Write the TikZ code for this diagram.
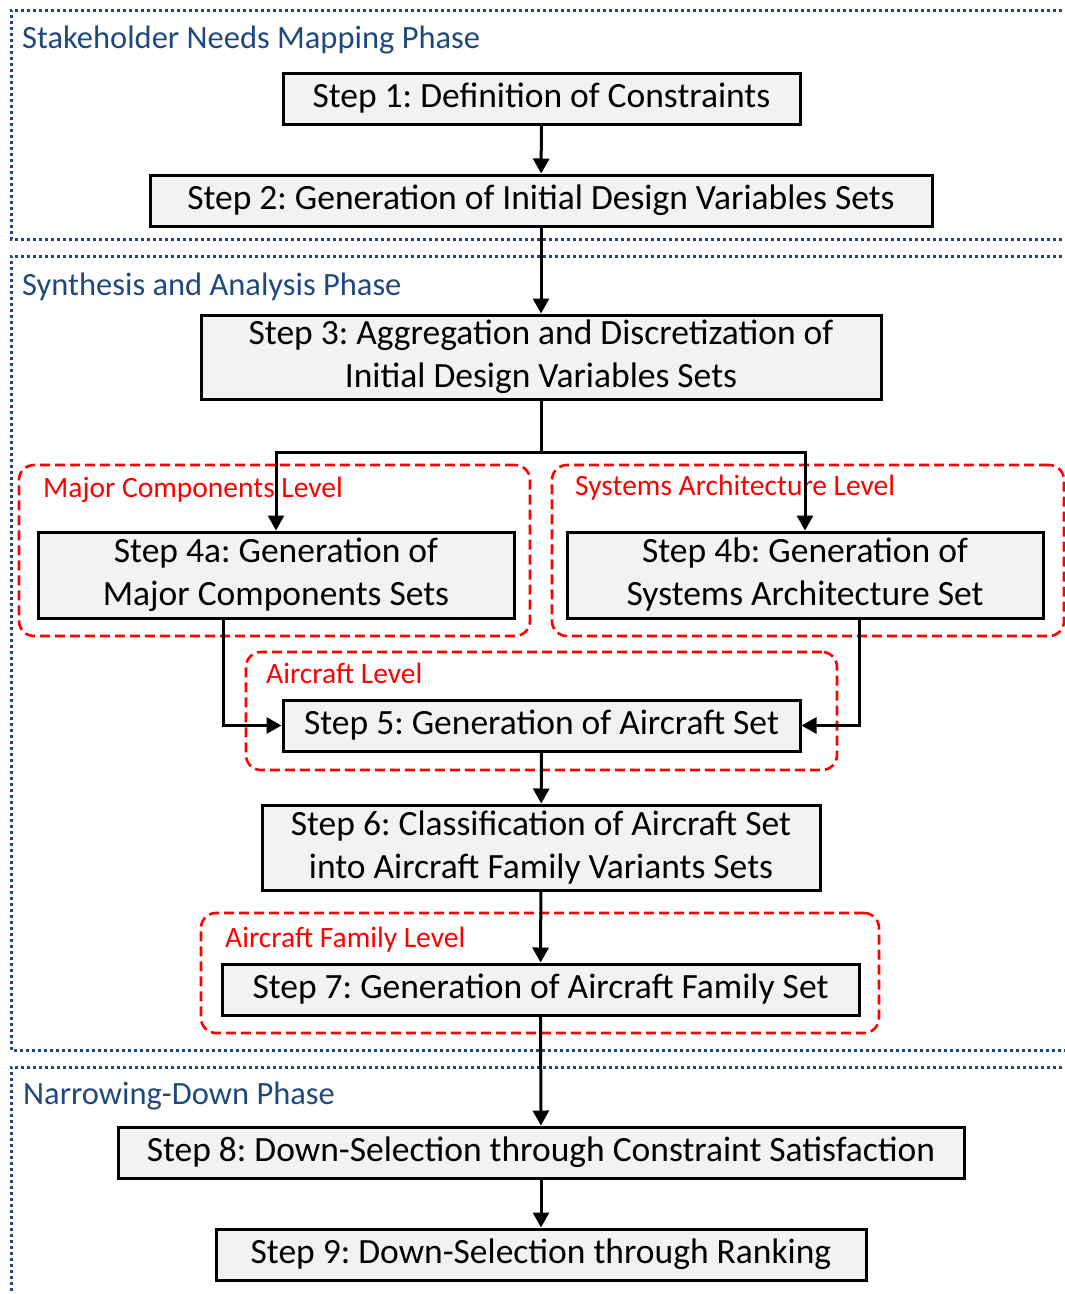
\documentclass[tikz,border=0pt]{standalone}
\usepackage{fontspec}
\setmainfont{Carlito}
\frenchspacing
\usetikzlibrary{arrows.meta,calc}
\definecolor{phaseblue}{RGB}{31,73,125}
\definecolor{boxgray}{RGB}{242,242,242}
\begin{document}
\begin{tikzpicture}[x=1pt,y=-1pt,
  stepbox/.style={draw=black,line width=3pt,fill=boxgray,inner sep=0pt,
    align=center,font=\fontsize{35.5}{43}\selectfont},
  phaseframe/.style={draw=phaseblue,line width=3pt,dash pattern=on 3pt off 3pt},
  phaselabel/.style={anchor=west,inner sep=0pt,text=phaseblue,font=\fontsize{32.5}{36}\selectfont},
  levelframe/.style={draw=red,line width=2.6pt,dash pattern=on 10pt off 5pt,rounded corners=15pt,inner sep=0pt},
  levellabel/.style={anchor=west,inner sep=0pt,text=red,font=\fontsize{29.5}{34}\selectfont},
  flow/.style={draw=black,line width=3pt},
  arr/.style={flow,-{Triangle[length=15pt,width=16pt]}}]
\useasboundingbox (0,0) rectangle (1065,1294);
\clip (0,0) rectangle (1065,1294);

% phase frames (open towards the right edge)
\draw[phaseframe] (1080,10) -- (11,10) -- (11,239) -- (1080,239);
\draw[phaseframe] (1080,256) -- (11,256) -- (11,1050) -- (1080,1050);
\draw[phaseframe] (1080,1067) -- (11,1067) -- (11,1310);
\node[phaselabel] (ph1) at (22,40) {Stakeholder Needs Mapping Phase};
\node[phaselabel] (ph2) at (22,287) {Synthesis and Analysis Phase};
\node[phaselabel] (ph3) at (23,1096) {Narrowing-Down Phase};

% level frames
\node[levelframe,minimum width=511pt,minimum height=171pt] (lvmc) at (274.5,550.5) {};
\node[levelframe,minimum width=512pt,minimum height=171pt] (lvsa) at (808,550.5) {};
\node[levelframe,minimum width=591pt,minimum height=118pt] (lvac) at (541.5,711) {};
\node[levelframe,minimum width=678pt,minimum height=120pt] (lvaf) at (540,973) {};
\node[levellabel] (lbmc) at (43,490) {Major Components Level};
\node[levellabel] (lbsa) at (575,488) {Systems Architecture Level};
\node[levellabel] (lbac) at (266,673) {Aircraft Level};
\node[levellabel] (lbaf) at (225,940) {Aircraft Family Level};

% steps
\node[stepbox,minimum width=517pt,minimum height=51pt] (s1) at (541.5,98.5) {Step 1: Definition of Constraints};
\node[stepbox,minimum width=782pt,minimum height=51pt] (s2) at (541,200.5) {Step 2: Generation of Initial Design Variables Sets};
\node[stepbox,minimum width=680pt,minimum height=84pt] (s3) at (541,357) {Step 3: Aggregation and Discretization of\\Initial Design Variables Sets};
\node[stepbox,minimum width=476pt,minimum height=86pt] (s4a) at (276,575) {Step 4a: Generation of\\Major Components Sets};
\node[stepbox,minimum width=476pt,minimum height=86pt] (s4b) at (805,575) {Step 4b: Generation of\\Systems Architecture Set};
\node[stepbox,minimum width=517pt,minimum height=51pt] (s5) at (541.5,725.5) {Step 5: Generation of Aircraft Set};
\node[stepbox,minimum width=558pt,minimum height=85pt] (s6) at (541,847.5) {Step 6: Classification of Aircraft Set\\into Aircraft Family Variants Sets};
\node[stepbox,minimum width=637pt,minimum height=51pt] (s7) at (540.5,989.5) {Step 7: Generation of Aircraft Family Set};
\node[stepbox,minimum width=846pt,minimum height=51pt] (s8) at (541,1152.5) {Step 8: Down-Selection through Constraint Satisfaction};
\node[stepbox,minimum width=650pt,minimum height=51pt] (s9) at (541,1254.5) {Step 9: Down-Selection through Ranking};

% connectors
\coordinate (split) at ($(s3.south)+(0,52)$);
\draw[arr] (s1) -- (s2);
\draw[arr] (s2) -- (s3);
\draw[flow] (s3.south) -- (split);
\draw[arr] (split) -| (s4a.north);
\draw[arr] (split) -| (s4b.north);
\draw[arr] ($(s4a.south)+(-53,0)$) |- (s5.west);
\draw[arr] ($(s4b.south)+(54,0)$) |- (s5.east);
\draw[arr] (s5) -- (s6);
\draw[arr] (s6) -- (s7);
\draw[arr] (s7) -- (s8);
\draw[arr] (s8) -- (s9);
\end{tikzpicture}
\end{document}
